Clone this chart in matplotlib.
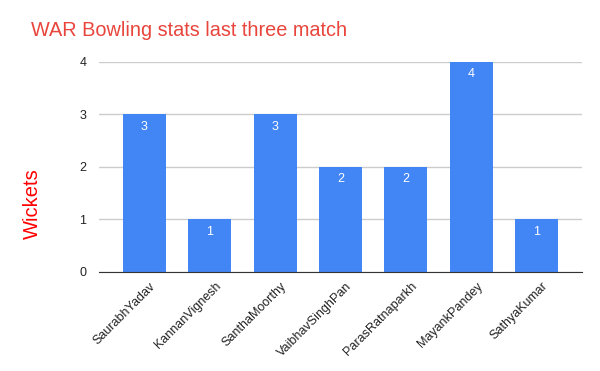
import matplotlib
matplotlib.use("Agg")
import matplotlib.pyplot as plt
import matplotlib.transforms as mtransforms

# chart data
players = ["SaurabhYadav", "KannanVignesh", "SanthaMoorthy", "VaibhavSinghPan",
           "ParasRatnaparkh", "MayankPandey", "SathyaKumar"]
wickets = [3, 1, 3, 2, 2, 4, 1]
y_ticks = [0, 1, 2, 3, 4]

plt.rcParams['font.family'] = ['Liberation Sans', 'DejaVu Sans']

fig = plt.figure(figsize=(6, 3.71), dpi=100)
ax = fig.add_axes([0.165, 0.267, 0.805, 0.566])

x = list(range(len(players)))
bars = ax.bar(x, wickets, width=0.656, color="#4285F4", zorder=3)

# white value labels inside the top of each bar
for xi, v in zip(x, wickets):
    ax.text(xi, v - 0.12, str(v), ha="center", va="top", color="white", fontsize=9, zorder=4)

ax.set_xlim(-0.69, len(players) - 1 + 0.69)
ax.set_ylim(0, 4)
ax.set_yticks(y_ticks)
ax.set_yticklabels([str(t) for t in y_ticks])
ax.set_xticks(x)
ax.set_xticklabels(players, rotation=45, ha="right", rotation_mode="anchor")

ax.tick_params(axis="both", length=0, labelsize=9, colors="#222222")
ax.tick_params(axis="y", pad=9)
ax.tick_params(axis="x", pad=6)

# nudge the rotated labels a little to the right
shift = mtransforms.ScaledTranslation(5 / 100, 0, fig.dpi_scale_trans)
for lbl in ax.get_xticklabels():
    lbl.set_transform(lbl.get_transform() + shift)

ax.grid(axis="y", color="#cccccc", linewidth=1, zorder=0)
for side in ["top", "right", "left"]:
    ax.spines[side].set_visible(False)
ax.spines["bottom"].set_color("#333333")
ax.spines["bottom"].set_zorder(5)

fig.text(31 / 600, 1 - 31 / 371, "WAR Bowling stats last three match",
         color="#E8453C", fontsize=14.3, ha="left", va="center")
fig.text(32 / 600, 1 - 203.5 / 371, "Wickets", color="#FF0000", fontsize=14.5,
         rotation=90, ha="center", va="center")

fig.savefig("out.png", dpi=100)
